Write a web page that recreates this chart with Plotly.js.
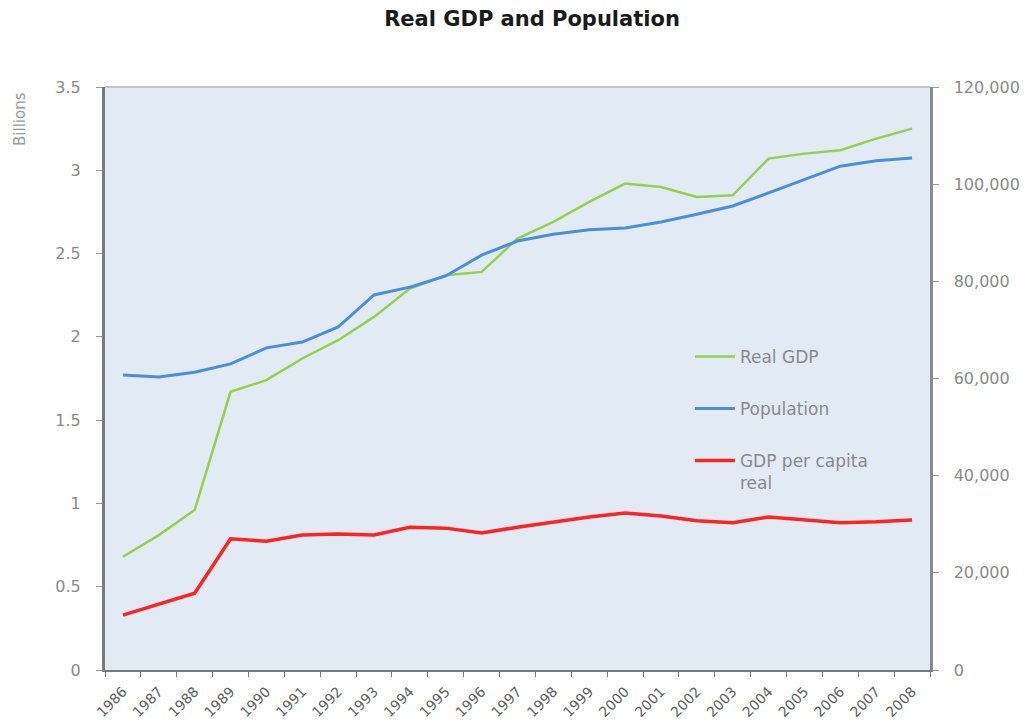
<!DOCTYPE html>
<html>
<head>
<meta charset="utf-8">
<script src="https://cdn.plot.ly/plotly-3.0.1.min.js"></script>
<style>html,body{margin:0;padding:0;background:#fff;}#chart{width:1035px;height:728px;}</style>
</head>
<body>
<div id="chart"></div>
<script>
var years = ["1986","1987","1988","1989","1990","1991","1992","1993","1994","1995","1996","1997","1998","1999","2000","2001","2002","2003","2004","2005","2006","2007","2008"];
// Real GDP, billions (left axis)
var realGDP = [0.68,0.81,0.96,1.67,1.74,1.87,1.98,2.12,2.29,2.37,2.39,2.59,2.69,2.81,2.92,2.90,2.84,2.85,3.07,3.10,3.12,3.19,3.25];
// Population (right axis)
var population = [60700,60300,61300,63000,66300,67500,70600,77200,78800,81100,85400,88300,89700,90600,91000,92200,93800,95500,98200,101000,103700,104800,105400];
// GDP per capita real (right axis)
var gdpPerCapita = [11300,13600,15800,27000,26500,27800,28000,27800,29400,29200,28200,29400,30500,31500,32300,31700,30700,30300,31500,30900,30300,30500,30900];

var leftTicks = [0,0.5,1,1.5,2,2.5,3,3.5];
var rightTicks = [0,20000,40000,60000,80000,100000,120000];

var font = "DejaVu Sans, Verdana, sans-serif";
var grey = "#8a8a8a";

var traces = [
  {x: years, y: realGDP, name: "Real GDP", type: "scatter", mode: "lines", yaxis: "y",
   line: {color: "#94d050", width: 2.5}, legendgroup: "a"},
  {x: years, y: population, name: "Population", type: "scatter", mode: "lines", yaxis: "y2",
   line: {color: "#4a8fdb", width: 3}, legendgroup: "b"},
  {x: years, y: gdpPerCapita, name: "GDP per capita<br>real", type: "scatter", mode: "lines", yaxis: "y2",
   line: {color: "#ff2424", width: 3.5}, legendgroup: "c"}
];

var layout = {
  width: 1035, height: 728,
  margin: {l: 105, r: 105, t: 87, b: 58},
  paper_bgcolor: "#ffffff",
  plot_bgcolor: "#e2eaf4",
  font: {family: font, color: grey, size: 15},
  title: {text: "<b>Real GDP and Population</b>", x: 0.514, xanchor: "center", y: 0.975, yanchor: "middle",
          font: {family: font, size: 21, color: "#1a1a1a"}},
  showlegend: true,
  legend: {x: 0.709, y: 0.568, xanchor: "left", yanchor: "top", bgcolor: "rgba(0,0,0,0)", valign: "top",
           font: {family: font, size: 17, color: grey}, tracegroupgap: 27, itemwidth: 40},
  xaxis: {type: "category", range: [-0.5, 22.5], tickangle: -45, tickson: "boundaries", ticks: "outside", ticklen: 5,
          tickcolor: "#777", showline: true, linecolor: "#7a7a7a", linewidth: 2, showgrid: false,
          tickfont: {family: font, size: 14, color: "#606060"}, mirror: false, zeroline: false, ticklabelstandoff: 6},
  yaxis: {range: [0, 3.5], tickvals: leftTicks, ticktext: leftTicks.map(String), ticks: "outside", ticklen: 6,
          tickcolor: "#999", showline: true, linecolor: "#7a7a7a", linewidth: 3, showgrid: false, zeroline: false,
          tickfont: {family: font, size: 16, color: grey}, ticklabelstandoff: 12},
  yaxis2: {range: [0, 120000], overlaying: "y", side: "right", tickvals: rightTicks, tickformat: ",", ticks: "outside",
           ticklen: 6, tickcolor: "#999", showline: true, linecolor: "#8a8a8a", linewidth: 2.5, showgrid: false,
           zeroline: false, tickfont: {family: font, size: 16, color: grey}, ticklabelstandoff: 12},
  shapes: [
    {type: "line", xref: "paper", yref: "paper", x0: 0, x1: 1, y0: 1, y1: 1, line: {color: "#c4c4c4", width: 2}}
  ],
  annotations: [
    {text: "Billions", xref: "paper", yref: "paper", x: -0.103, y: 0.995, xanchor: "center", yanchor: "top",
     textangle: -90, showarrow: false, font: {family: font, size: 15, color: "#9a9a9a"}}
  ]
};

Plotly.newPlot("chart", traces, layout, {displayModeBar: false, staticPlot: true});
</script>
</body>
</html>
